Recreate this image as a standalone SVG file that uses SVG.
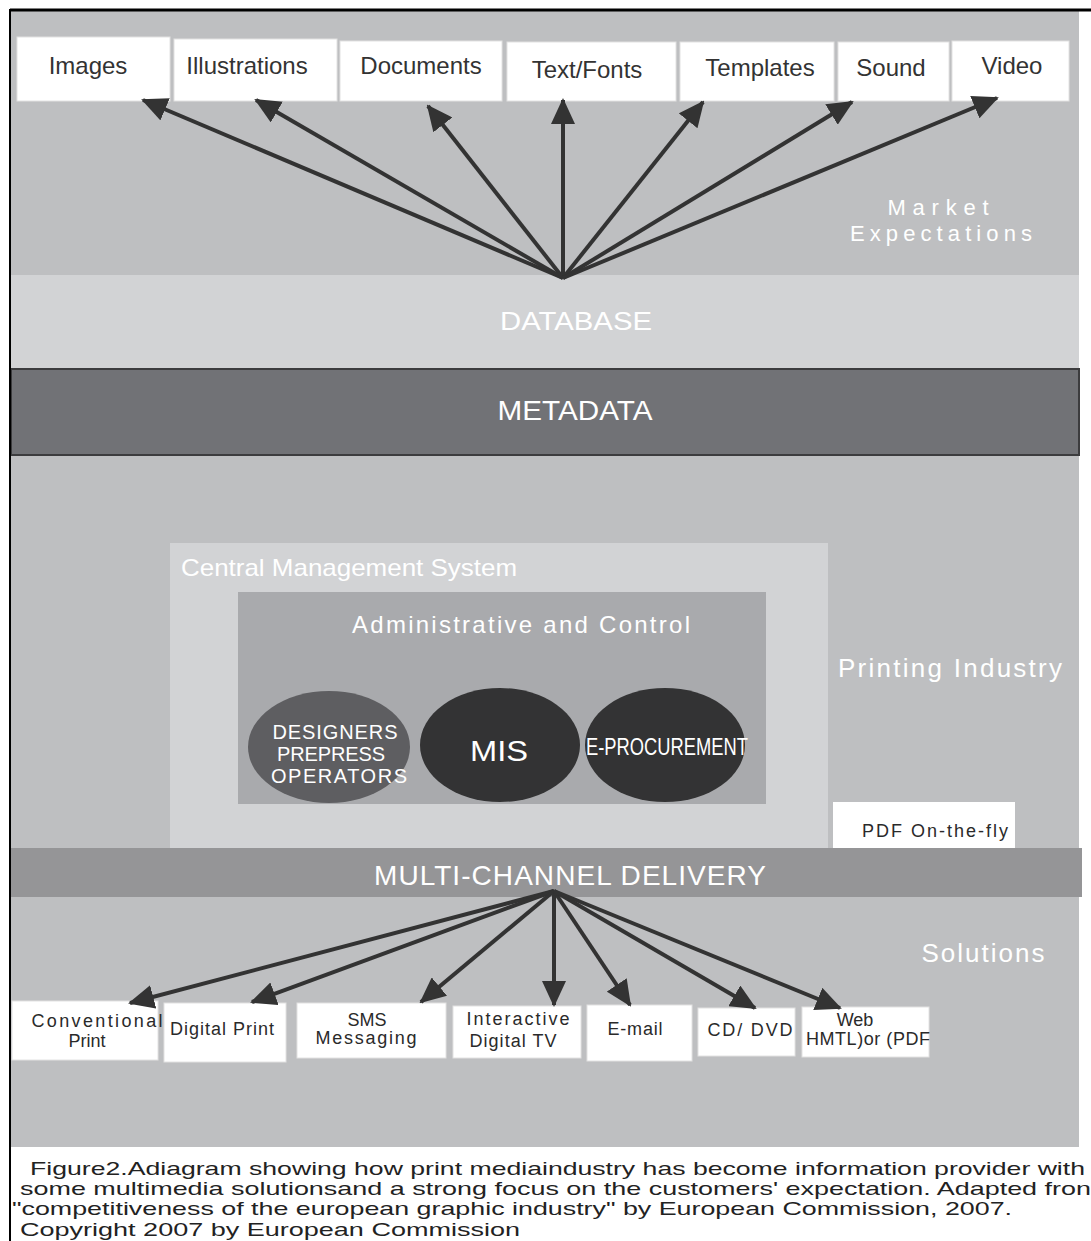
<svg xmlns="http://www.w3.org/2000/svg" width="1091" height="1241" viewBox="0 0 1091 1241">
<style>
  text { font-family: "Liberation Sans", Arial, sans-serif; }
  .box { fill: #ffffff; stroke: #e2e2e2; stroke-width: 1; }
  .lbl { fill: #333333; font-size: 24px; text-anchor: middle; }
  .sl { fill: #2a2a2a; font-size: 18px; text-anchor: middle; }
  .wt { fill: #ffffff; }
  .conn { stroke: #333333; stroke-width: 4; fill: none; marker-end: url(#ah); }
  .cap { fill: #222222; font-size: 19px; }
</style>
<defs>
  <marker id="ah" markerUnits="userSpaceOnUse" markerWidth="26" markerHeight="24" refX="24" refY="12" orient="auto">
    <path d="M0,0 L26,12 L0,24 Z" fill="#333333"/>
  </marker>
</defs>
<rect x="0" y="0" width="1091" height="1241" fill="#ffffff"/>
<!-- background bands -->
<g id="bands">
  <rect x="11" y="11" width="1068" height="264" fill="#bebfc1"/>
  <rect x="11" y="275" width="1068" height="94" fill="#d2d3d5"/>
  <rect x="11" y="369" width="1068" height="86" fill="#717276" stroke="#3c3c3e" stroke-width="2"/>
  <rect x="11" y="456" width="1068" height="392" fill="#bebfc1"/>
  <rect x="11" y="897" width="1068" height="250" fill="#bebfc1"/>
  <line x1="10" y1="10" x2="1091" y2="10" stroke="#000" stroke-width="3"/>
  <line x1="10" y1="9" x2="10" y2="1241" stroke="#000" stroke-width="2"/>
</g>
<g id="market-label">
  <text class="wt" x="938" y="215" font-size="22" text-anchor="middle" textLength="101">Market</text>
  <text class="wt" x="941" y="241" font-size="22" text-anchor="middle" textLength="182">Expectations</text>
</g>
<g id="database"><text class="wt" x="576" y="330" font-size="26" text-anchor="middle" textLength="152" lengthAdjust="spacingAndGlyphs">DATABASE</text></g>
<g id="metadata"><text class="wt" x="575" y="420" font-size="28" text-anchor="middle" textLength="155" lengthAdjust="spacingAndGlyphs">METADATA</text></g>
<!-- top nodes -->
<g id="n-images"><rect class="box" x="17" y="37" width="153" height="64"/><text class="lbl" x="88" y="74">Images</text></g>
<g id="n-illustrations"><rect class="box" x="174" y="39" width="163" height="62"/><text class="lbl" x="247" y="74">Illustrations</text></g>
<g id="n-documents"><rect class="box" x="340" y="41" width="162" height="60"/><text class="lbl" x="421" y="74">Documents</text></g>
<g id="n-textfonts"><rect class="box" x="507" y="42" width="169" height="59"/><text class="lbl" x="587" y="78">Text/Fonts</text></g>
<g id="n-templates"><rect class="box" x="680" y="42" width="154" height="59"/><text class="lbl" x="760" y="76">Templates</text></g>
<g id="n-sound"><rect class="box" x="838" y="42" width="111" height="59"/><text class="lbl" x="891" y="76">Sound</text></g>
<g id="n-video"><rect class="box" x="952" y="41" width="117" height="60"/><text class="lbl" x="1012" y="74">Video</text></g>
<!-- central system -->
<g id="cms">
  <rect x="170" y="543" width="658" height="305" fill="#d2d3d5"/>
  <text class="wt" x="181" y="576" font-size="24" textLength="336" lengthAdjust="spacingAndGlyphs">Central Management System</text>
</g>
<g id="admin">
  <rect x="238" y="592" width="528" height="212" fill="#a9aaad"/>
  <text class="wt" x="352" y="633" font-size="24" textLength="338">Administrative and Control</text>
</g>
<g id="n-designers">
  <ellipse cx="329" cy="747" rx="81" ry="56" fill="#5e5e61"/>
  <text class="wt" x="335" y="739" font-size="20" text-anchor="middle" textLength="125">DESIGNERS</text>
  <text class="wt" x="331" y="761" font-size="20" text-anchor="middle" textLength="108">PREPRESS</text>
  <text class="wt" x="339" y="783" font-size="20" text-anchor="middle" textLength="136">OPERATORS</text>
</g>
<g id="n-mis">
  <ellipse cx="500" cy="745" rx="80" ry="57" fill="#333334"/>
  <text class="wt" x="499" y="761" font-size="30" text-anchor="middle" textLength="58" lengthAdjust="spacingAndGlyphs">MIS</text>
</g>
<g id="n-eproc">
  <ellipse cx="665" cy="745" rx="80" ry="57" fill="#333334"/>
  <text class="wt" x="667" y="755" font-size="24" text-anchor="middle" textLength="162" lengthAdjust="spacingAndGlyphs">E-PROCUREMENT</text>
</g>
<g id="printing-label"><text class="wt" x="950" y="677" font-size="26" text-anchor="middle" textLength="224">Printing Industry</text></g>
<g id="n-pdf"><rect x="833" y="802" width="182" height="46" fill="#ffffff"/><text x="935" y="837" font-size="18" fill="#2a2a2a" text-anchor="middle" textLength="146">PDF On-the-fly</text></g>
<g id="multichannel">
  <rect x="11" y="848" width="1071" height="49" fill="#959597"/>
  <text class="wt" x="570" y="885" font-size="28" text-anchor="middle" textLength="392">MULTI-CHANNEL DELIVERY</text>
</g>
<g id="solutions-label"><text class="wt" x="983" y="962" font-size="26" text-anchor="middle" textLength="123">Solutions</text></g>
<!-- bottom nodes -->
<g id="n-conventional"><rect class="box" x="12" y="1001" width="146" height="59"/><text class="sl" x="97" y="1027" textLength="131">Conventional</text><text class="sl" x="87" y="1047">Print</text></g>
<g id="n-digitalprint"><rect class="box" x="164" y="1003" width="122" height="59"/><text class="sl" x="222" y="1035" textLength="104">Digital Print</text></g>
<g id="n-sms"><rect class="box" x="297" y="1003" width="149" height="55"/><text class="sl" x="367" y="1026" font-size="14">SMS</text><text class="sl" x="366" y="1044" textLength="101">Messaging</text></g>
<g id="n-interactive"><rect class="box" x="453" y="1006" width="128" height="52"/><text class="sl" x="518" y="1025" textLength="103">Interactive</text><text class="sl" x="513" y="1047" textLength="87">Digital TV</text></g>
<g id="n-email"><rect class="box" x="587" y="1005" width="105" height="56"/><text class="sl" x="635" y="1035" textLength="55">E-mail</text></g>
<g id="n-cddvd"><rect class="box" x="698" y="1008" width="97" height="48"/><text class="sl" x="750" y="1036" textLength="85">CD/ DVD</text></g>
<g id="n-web"><rect class="box" x="802" y="1007" width="127" height="50"/><text class="sl" x="855" y="1026">Web</text><text class="sl" x="868" y="1045" textLength="124">HMTL)or (PDF</text></g>
<!-- connectors -->
<g id="connectors">
  <line class="conn" x1="563" y1="278" x2="143" y2="100"/>
  <line class="conn" x1="563" y1="278" x2="256" y2="100"/>
  <line class="conn" x1="563" y1="278" x2="428" y2="106"/>
  <line class="conn" x1="563" y1="278" x2="563" y2="100"/>
  <line class="conn" x1="563" y1="278" x2="703" y2="102"/>
  <line class="conn" x1="563" y1="278" x2="852" y2="102"/>
  <line class="conn" x1="563" y1="278" x2="997" y2="98"/>
  <line class="conn" x1="554" y1="891" x2="130" y2="1003"/>
  <line class="conn" x1="554" y1="891" x2="252" y2="1002"/>
  <line class="conn" x1="554" y1="891" x2="421" y2="1002"/>
  <line class="conn" x1="554" y1="891" x2="554" y2="1005"/>
  <line class="conn" x1="554" y1="891" x2="630" y2="1005"/>
  <line class="conn" x1="554" y1="891" x2="755" y2="1008"/>
  <line class="conn" x1="554" y1="891" x2="840" y2="1008"/>
</g>
<!-- caption -->
<g id="caption">
  <text class="cap" x="30" y="1175" textLength="1055" lengthAdjust="spacingAndGlyphs">Figure2.Adiagram showing how print mediaindustry has become information provider with</text>
  <text class="cap" x="20" y="1195" textLength="1071" lengthAdjust="spacingAndGlyphs">some multimedia solutionsand a strong focus on the customers' expectation. Adapted fron</text>
  <text class="cap" x="12" y="1215" textLength="1000" lengthAdjust="spacingAndGlyphs">"competitiveness of the european graphic industry" by European Commission, 2007.</text>
  <text class="cap" x="20" y="1236" textLength="500" lengthAdjust="spacingAndGlyphs">Copyright 2007 by European Commission</text>
</g>
</svg>
